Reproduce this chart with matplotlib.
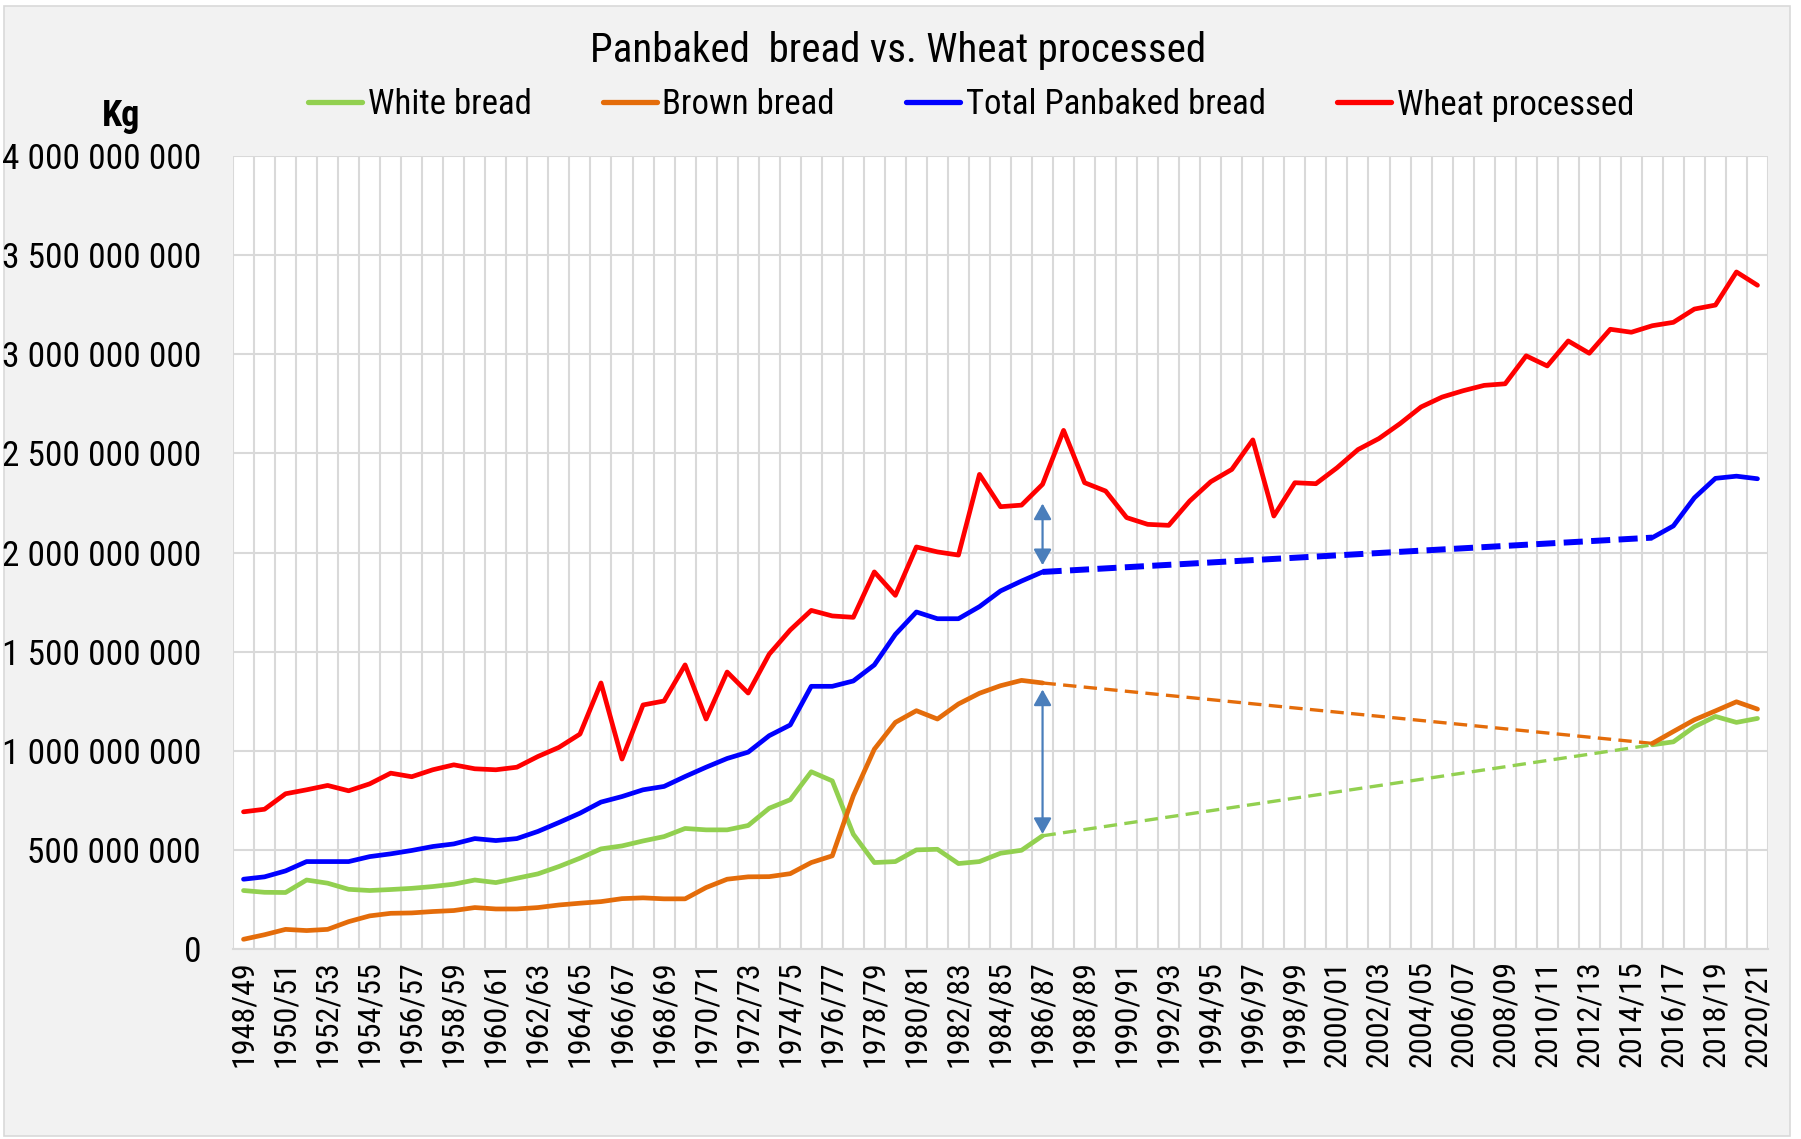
import numpy as np
import matplotlib
matplotlib.use("Agg")
import matplotlib.pyplot as plt
from matplotlib import font_manager
from matplotlib.patches import Rectangle

# ---------------- data (millions of kg) ----------------
seasons = [f"{y}/{(y + 1) % 100:02d}" for y in range(1948, 2021)]

wheat_processed = [
    692, 705, 783, 803, 825, 798, 833, 887, 869, 904,
    929, 909, 904, 917, 971, 1017, 1084, 1342, 958, 1231,
    1251, 1433, 1160, 1397, 1291, 1487, 1609, 1708, 1680, 1673,
    1902, 1784, 2028, 2003, 1987, 2394, 2231, 2239, 2344, 2616,
    2352, 2310, 2176, 2142, 2137, 2260, 2357, 2419, 2568, 2184,
    2352, 2347, 2427, 2519, 2575, 2650, 2734, 2784, 2816, 2843,
    2851, 2992, 2941, 3067, 3005, 3126, 3111, 3144, 3161, 3228,
    3248, 3415, 3348]

N = np.nan
GAP = [N] * 28   # 1987/88 .. 2014/15 not available

total_bread = [
    352, 364, 394, 441, 441, 441, 466, 480, 497, 517,
    530, 557, 547, 557, 593, 638, 685, 741, 769, 803,
    820, 870, 917, 961, 993, 1076, 1130, 1325, 1325, 1352,
    1433, 1587, 1700, 1666, 1666, 1727, 1806, 1856, 1902] + GAP + [
    2075, 2134, 2276, 2374, 2385, 2372]

white_bread = [
    295, 286, 285, 348, 332, 301, 295, 300, 306, 315,
    327, 348, 335, 357, 379, 416, 458, 505, 520, 545,
    567, 608, 601, 601, 623, 710, 753, 894, 848, 579,
    436, 441, 500, 503, 431, 441, 483, 498, 571] + GAP + [
    1030, 1045, 1121, 1173, 1143, 1163]

brown_bread = [
    49, 72, 99, 93, 99, 138, 167, 180, 182, 189,
    194, 209, 202, 202, 209, 222, 231, 239, 254, 258,
    253, 253, 310, 352, 364, 365, 380, 436, 470, 773,
    1008, 1143, 1202, 1160, 1236, 1290, 1328, 1355, 1342] + GAP + [
    1037, 1097, 1156, 1201, 1247, 1210]

# double arrows (season index, from, to) in millions
arrow_upper = (38, 1936, 2247)
arrow_lower = (38, 580, 1309)

yticks = [0, 500, 1000, 1500, 2000, 2500, 3000, 3500, 4000]

# ---------------- style ----------------
names = {f.name for f in font_manager.fontManager.ttflist}
fam, k = "Liberation Sans", 0.86
for cand in ("Liberation Sans Narrow", "Arial Narrow", "Roboto Condensed", "Open Sans Condensed"):
    if cand in names:
        fam, k = cand, 1.0
        break
plt.rcParams['font.family'] = [fam, 'DejaVu Sans']

C_WHITE = "#92D050"
C_BROWN = "#E46C0A"
C_TOTAL = "#0000FF"
C_WHEAT = "#FF0000"
C_GRID = "#D9D9D9"
C_ARROW = "#4A7EBB"

fig = plt.figure(figsize=(18.01, 11.39), dpi=100, facecolor="white")
fig.patches.append(Rectangle((0.002, 0.003), 0.992, 0.992, transform=fig.transFigure,
                             facecolor="#F2F2F2", edgecolor=C_GRID, lw=1.2, zorder=-10))

ax = fig.add_axes([233 / 1801, 1 - 949 / 1139, 1535 / 1801, 793 / 1139])
ax.set_facecolor("white")

x = np.arange(len(seasons))
scale = 1e6
wheat = np.array(wheat_processed) * scale
total = np.array(total_bread, dtype=float) * scale
white = np.array(white_bread, dtype=float) * scale
brown = np.array(brown_bread, dtype=float) * scale

lw = 3.4
kw = dict(lw=lw, solid_capstyle='round', solid_joinstyle='round', zorder=3)
ax.plot(x, white, color=C_WHITE, label="White bread", **kw)
ax.plot(x, brown, color=C_BROWN, label="Brown bread", **kw)
ax.plot(x, total, color=C_TOTAL, label="Total Panbaked bread", **kw)
ax.plot(x, wheat, color=C_WHEAT, label="Wheat processed", **kw)

# dashed connectors across the data gap
def gap_ends(series):
    arr = np.asarray(series, dtype=float)
    nan_idx = np.where(np.isnan(arr))[0]
    a, b = nan_idx[0] - 1, nan_idx[-1] + 1
    return [a, b], [arr[a] * scale, arr[b] * scale]

gx, gy = gap_ends(total_bread)
ax.plot(gx, gy, color=C_TOTAL, lw=4.3, dashes=(3.2, 1.4), zorder=2)
gx, gy = gap_ends(brown_bread)
ax.plot(gx, gy, color=C_BROWN, lw=2.4, dashes=(4.0, 2.2), zorder=2)
gx, gy = gap_ends(white_bread)
ax.plot(gx, gy, color=C_WHITE, lw=2.4, dashes=(4.0, 2.2), zorder=2)

for (xi, y0, y1) in (arrow_upper, arrow_lower):
    ax.annotate("", xy=(xi, y1 * scale), xytext=(xi, y0 * scale),
                arrowprops=dict(arrowstyle="<|-|>,head_length=0.48,head_width=0.27",
                                mutation_scale=20, color=C_ARROW, lw=1.6,
                                shrinkA=0, shrinkB=0),
                zorder=4)

# axes
ax.set_xlim(-0.5, len(seasons) - 0.5)
ax.set_ylim(0, 4000 * scale)
ax.set_yticks([v * scale for v in yticks])
ax.set_yticklabels([f"{v * 1000000:,}".replace(",", " ") for v in yticks], fontsize=25.5 * k)
ax.set_xticks(x[::2])
ax.set_xticklabels(seasons[::2], rotation=90, fontsize=23 * k)
ax.set_xticks(np.arange(-0.5, len(seasons), 1.0), minor=True)
ax.tick_params(axis='both', which='both', length=0)
ax.tick_params(axis='y', pad=23)
ax.tick_params(axis='x', pad=8)
ax.grid(axis='x', which='minor', color=C_GRID, lw=1.5, zorder=0)
ax.grid(axis='y', which='major', color=C_GRID, lw=1.5, zorder=0)
ax.grid(axis='x', which='major', visible=False)
for s in ax.spines.values():
    s.set_visible(False)
ax.spines['bottom'].set_visible(True)
ax.spines['bottom'].set_color(C_GRID)
ax.spines['bottom'].set_linewidth(1.5)
ax.set_axisbelow(True)

fig.text(898 / 1801, 1 - 50 / 1139, "Panbaked  bread vs. Wheat processed",
         ha='center', va='center', fontsize=29.5 * k)
fig.text(121 / 1801, 1 - 116 / 1139, "Kg", ha='center', va='center',
         fontsize=26 * k, fontweight='bold')

leg = fig.legend(loc='center', bbox_to_anchor=(971 / 1801, 1 - 105 / 1139), ncol=4,
                 frameon=False, fontsize=25 * k, handlelength=1.55 / k,
                 handletextpad=0.17 / k, columnspacing=2.05 / k, borderpad=0)
for h in leg.get_lines():
    h.set_linewidth(3.8)

fig.savefig("out.png", dpi=100, facecolor=fig.get_facecolor())
